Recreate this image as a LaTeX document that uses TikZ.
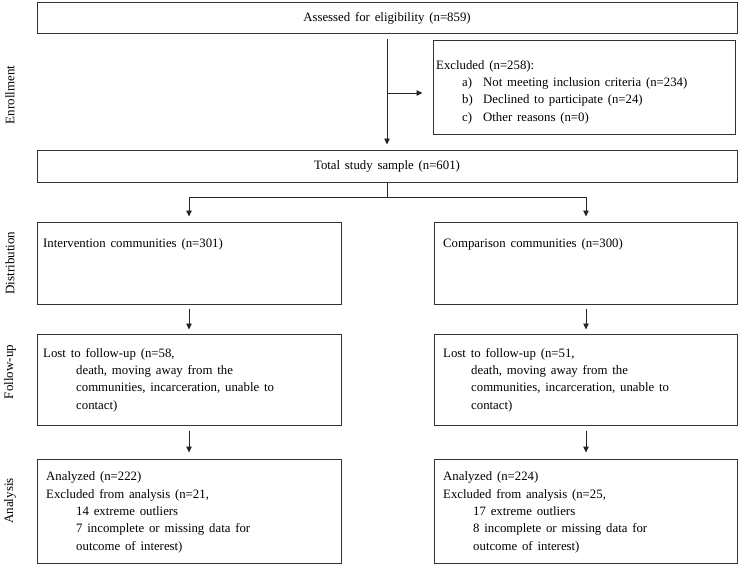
\documentclass[tikz,border=0pt]{standalone}
\usepackage{fontspec}
\setmainfont{Liberation Serif}
\usetikzlibrary{arrows.meta}
\newcommand{\basefont}{\fontsize{12.8}{17.3}\selectfont\spaceskip=4.8pt plus 1pt}
\begin{document}
\begin{tikzpicture}[x=1pt,y=-1pt,
  box/.style={draw=black!80, line width=1pt, inner sep=0pt, font=\basefont},
  arr/.style={-{Triangle[length=6pt,width=5.5pt]}, line width=0.8pt, draw=black!85},
  ln/.style={line width=0.8pt, draw=black!85},
  txt/.style={font=\basefont, anchor=base west, inner sep=0pt, align=left},
  side/.style={font=\fontsize{13}{15}\selectfont, rotate=90, inner sep=0pt}]
\useasboundingbox (0,0) rectangle (740,565);

% boxes
\node[box, minimum width=700, minimum height=31] (top) at (387,18) {Assessed for eligibility (n=859)};
\node[box, minimum width=302, minimum height=94] (excl) at (584,87) {};
\node[box, minimum width=700, minimum height=32] (total) at (387,166) {Total study sample (n=601)};
\node[box, minimum width=304, minimum height=82] (int) at (189,263) {};
\node[box, minimum width=303, minimum height=82] (comp) at (586,263) {};
\node[box, minimum width=304, minimum height=91] (lostI) at (189,379.5) {};
\node[box, minimum width=303, minimum height=91] (lostC) at (586,379.5) {};
\node[box, minimum width=304, minimum height=104] (anaI) at (189,511) {};
\node[box, minimum width=303, minimum height=104] (anaC) at (586,511) {};

% texts (anchor = baseline of the last line)
\node[txt] (exclT) at (436,121) {Excluded (n=258):\\
\hspace{26pt}\makebox[21pt][l]{a)}Not meeting inclusion criteria (n=234)\\
\hspace{26pt}\makebox[21pt][l]{b)}Declined to participate (n=24)\\
\hspace{26pt}\makebox[21pt][l]{c)}Other reasons (n=0)};
\node[txt] (intT) at (43,247) {Intervention communities (n=301)};
\node[txt] (compT) at (443,247) {Comparison communities (n=300)};
\node[txt] (lostIT) at (43,409) {Lost to follow-up (n=58,\\
\hspace{33pt}death, moving away from the\\
\hspace{33pt}communities, incarceration, unable to\\
\hspace{33pt}contact)};
\node[txt] (lostCT) at (443,409) {Lost to follow-up (n=51,\\
\hspace{28pt}death, moving away from the\\
\hspace{28pt}communities, incarceration, unable to\\
\hspace{28pt}contact)};
\node[txt] (anaIT) at (46,550) {Analyzed (n=222)\\
Excluded from analysis (n=21,\\
\hspace{30pt}14 extreme outliers\\
\hspace{30pt}7 incomplete or missing data for\\
\hspace{30pt}outcome of interest)};
\node[txt] (anaCT) at (443,550) {Analyzed (n=224)\\
Excluded from analysis (n=25,\\
\hspace{30pt}17 extreme outliers\\
\hspace{30pt}8 incomplete or missing data for\\
\hspace{30pt}outcome of interest)};

% side labels
\node[side] (l1) at (10,95) {Enrollment};
\node[side] (l2) at (10,263) {Distribution};
\node[side] (l3) at (10,372) {Follow-up};
\node[side] (l4) at (10,501) {Analysis};

% connectors
\coordinate (br) at (387,93);
\draw[arr, shorten <=5pt, shorten >=5pt] (top.south) -- (total.north);
\draw[arr, shorten >=10pt] (br) -- (br -| excl.west);
\coordinate (split) at (387,197);
\draw[ln] (total.south) -- (split);
\draw[ln] (split -| int.north) -- (split -| comp.north);
\draw[arr, shorten >=5pt] (split -| int.north) -- (int.north);
\draw[arr, shorten >=5pt] (split -| comp.north) -- (comp.north);
\draw[arr, shorten <=4pt, shorten >=4pt] (int.south) -- (lostI.north);
\draw[arr, shorten <=4pt, shorten >=4pt] (comp.south) -- (lostC.north);
\draw[arr, shorten <=5pt, shorten >=6pt] (lostI.south) -- (anaI.north);
\draw[arr, shorten <=5pt, shorten >=6pt] (lostC.south) -- (anaC.north);
\end{tikzpicture}
\end{document}
